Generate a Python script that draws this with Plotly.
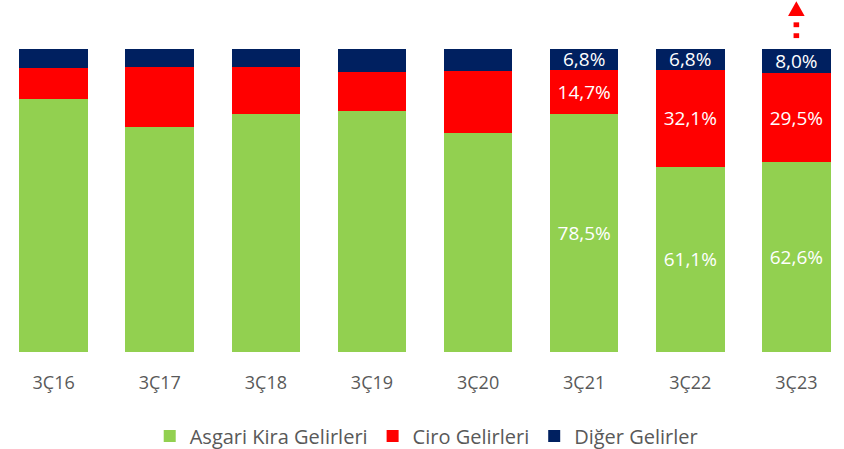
import plotly.graph_objects as go

categories = ["3Ç16", "3Ç17", "3Ç18", "3Ç19", "3Ç20", "3Ç21", "3Ç22", "3Ç23"]
asgari = [83.5, 74.4, 78.6, 79.5, 72.4, 78.5, 61.1, 62.6]
ciro = [10.2, 19.6, 15.4, 12.9, 20.4, 14.7, 32.1, 29.5]
diger = [6.3, 6.0, 6.0, 7.6, 7.2, 6.8, 6.8, 8.0]
labeled = [False, False, False, False, False, True, True, True]

series = [
    ("Asgari Kira Gelirleri", asgari, "#92D050"),
    ("Ciro Gelirleri", ciro, "#FF0000"),
    ("Diğer Gelirler", diger, "#002060"),
]

def fmt(v):
    return f"{v:.1f}".replace(".", ",") + "%"

FONT = "Open Sans"
fig = go.Figure()
for name, vals, color in series:
    texts = [fmt(v) if show else "" for v, show in zip(vals, labeled)]
    fig.add_trace(go.Bar(
        name=name, x=categories, y=vals, marker=dict(color=color, line=dict(width=0)),
        text=texts, textposition="inside", insidetextanchor="middle",
        textfont=dict(color="white", size=19, family=FONT),
        width=0.647, hoverinfo="skip",
    ))

# dotted up-arrow above the last bar
arrow_cat = categories[-1]
fig.add_shape(type="path", xref="x", yref="paper", xsizemode="pixel", xanchor=arrow_cat,
              path="M-8.3,1.109 L8.3,1.109 L0,1.158 Z", fillcolor="#FF0000", line=dict(width=0))
for y0, y1 in [(1.072, 1.088), (1.036, 1.052)]:
    fig.add_shape(type="rect", xref="x", yref="paper", xsizemode="pixel", xanchor=arrow_cat,
                  x0=-2.8, x1=2.8, y0=y0, y1=y1, fillcolor="#FF0000", line=dict(width=0))

fig.update_layout(
    barmode="stack",
    width=844, height=449,
    margin=dict(l=0, r=0, t=49, b=97, autoexpand=False),
    paper_bgcolor="white", plot_bgcolor="white",
    font=dict(family=FONT, color="#595959"),
    uniformtext=dict(minsize=19, mode="show"),
    showlegend=True,
    legend=dict(orientation="h", x=0.505, xanchor="center", y=-0.277, yanchor="middle",
                font=dict(size=20, color="#595959", family=FONT), traceorder="normal",
                itemwidth=30),
    xaxis=dict(range=[-0.506, 7.449], showgrid=False, zeroline=False, showline=False,
               ticks="", ticklabelstandoff=18, tickfont=dict(size=18, color="#595959", family=FONT)),
    yaxis=dict(range=[0, 100], visible=False, showgrid=False, zeroline=False),
)

fig.write_html("out.html", config={"displayModeBar": False},
               post_script="document.body.style.margin='0px';document.body.style.overflow='hidden';")
